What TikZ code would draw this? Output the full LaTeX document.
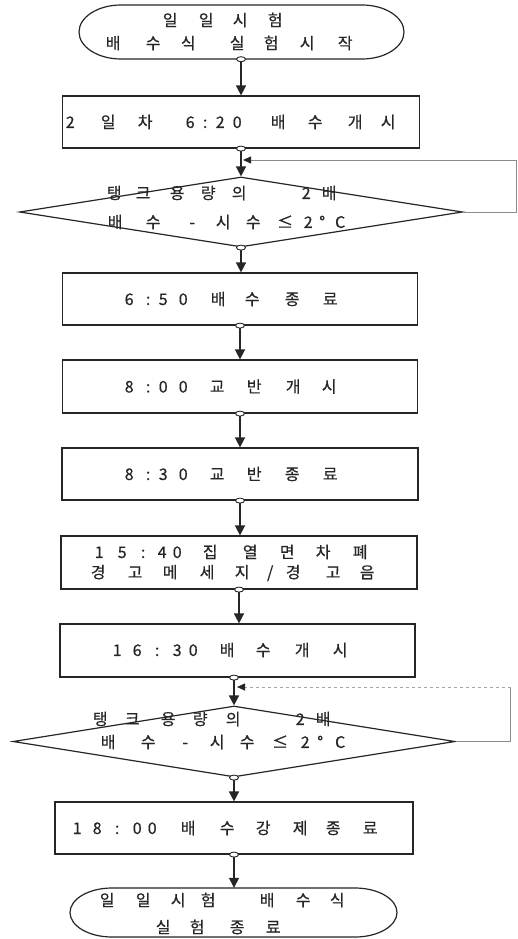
\documentclass[tikz,border=0pt]{standalone}
\usepackage{fontspec}
\setmainfont[FakeBold=0.5]{Noto Sans CJK KR}
\usetikzlibrary{arrows.meta,shapes.geometric}
\newcommand\Cc[2]{\makebox[#1pt][l]{\makebox[0pt][c]{#2}}}
\begin{document}
\begin{tikzpicture}[x=1pt,y=-1pt,
  ln/.style={draw=black!85, line width=1.2pt},
  box/.style={ln, rectangle, inner sep=0pt, fill=white},
  dia/.style={ln, diamond, inner sep=0pt},
  term/.style={rectangle, inner sep=0pt},
  arr/.style={draw=black!85, line width=1.5pt, -{Triangle[length=10pt,width=10pt]}},
  backline/.style={draw=black!45, line width=0.8pt},
  back/.style={backline, -{Triangle[length=8pt,width=7pt,color=black!85]}},
  txt/.style={inner sep=0pt, anchor=west, font=\fontsize{16}{18}\selectfont, text=black!85},
  dot/.style={draw=black!85, line width=0.9pt, fill=white}]

\useasboundingbox[fill=white] (0,0) rectangle (518,939);

% terminals (outline drawn as path, node for anchors)
\node[term, minimum width=325pt, minimum height=54pt] (t1) at (241,32) {};
\draw[ln] (121,5) -- (362,5) arc[start angle=90, end angle=-90, x radius=42pt, y radius=27pt]
  -- (121,59) arc[start angle=270, end angle=90, x radius=42pt, y radius=27pt] -- cycle;
\node[term, minimum width=327pt, minimum height=49pt] (t2) at (234,912.5) {};
\draw[ln] (112,888) -- (355,888) arc[start angle=90, end angle=-90, x radius=42pt, y radius=24.5pt]
  -- (112,937) arc[start angle=270, end angle=90, x radius=42pt, y radius=24.5pt] -- cycle;

% process boxes
\node[box, minimum width=357pt, minimum height=52pt] (b2) at (241,122) {};
\node[box, minimum width=355pt, minimum height=52pt] (b3) at (240,299) {};
\node[box, minimum width=355pt, minimum height=53pt] (b4) at (240,386.5) {};
\node[box, minimum width=356pt, minimum height=52pt] (b5) at (240,474) {};
\node[box, minimum width=356pt, minimum height=53pt] (b6) at (239,562.5) {};
\node[box, minimum width=355pt, minimum height=53pt] (b7) at (237.5,650.5) {};
\node[box, minimum width=358pt, minimum height=52pt] (b8) at (234,828) {};

% decisions
\node[dia, minimum width=443pt, minimum height=70pt] (d1) at (241,212) {};
\node[dia, minimum width=442pt, minimum height=71pt] (d2) at (234,741.5) {};

% texts
\node[txt] (t1a) at (163,20) {\hspace*{7pt}\Cc{36}{일}\Cc{34}{일}\Cc{35}{시}\Cc{0}{험}\hspace*{7pt}};
\node[txt] (t1b) at (106,43) {\hspace*{7pt}\Cc{40}{배}\Cc{35}{수}\Cc{49}{식}\Cc{34}{실}\Cc{36}{험}\Cc{38}{시}\Cc{0}{작}\hspace*{7pt}};
\node[txt] (b2t) at (63,122) {\hspace*{7pt}\Cc{38}{2}\Cc{37}{일}\Cc{45}{차}\Cc{15}{6}\Cc{15}{:}\Cc{17}{2}\Cc{41}{0}\Cc{37}{배}\Cc{40}{수}\Cc{33}{개}\Cc{0}{시}\hspace*{7pt}};
\node[txt] (d1a) at (107,193) {\hspace*{7pt}\Cc{29}{탱}\Cc{34}{크}\Cc{31}{용}\Cc{31}{량}\Cc{67}{의}\Cc{23}{2}\Cc{0}{배}\hspace*{7pt}};
\node[txt] (d1b) at (108,222) {\hspace*{7pt}\Cc{38}{배}\Cc{39}{수}\Cc{31}{-}\Cc{30}{시}\Cc{32}{수}\Cc{23}{≤}\Cc{14}{2}\Cc{18}{°}\Cc{0}{C}\hspace*{7pt}};
\node[txt] (b3t) at (122,299) {\hspace*{7pt}\Cc{19}{6}\Cc{15}{:}\Cc{20}{5}\Cc{35}{0}\Cc{34}{배}\Cc{40}{수}\Cc{38}{종}\Cc{0}{료}\hspace*{7pt}};
\node[txt] (b4t) at (122,386.5) {\hspace*{7pt}\Cc{19}{8}\Cc{15}{:}\Cc{20}{0}\Cc{34}{0}\Cc{37}{교}\Cc{39}{반}\Cc{36}{개}\Cc{0}{시}\hspace*{7pt}};
\node[txt] (b5t) at (122,474) {\hspace*{7pt}\Cc{19}{8}\Cc{15}{:}\Cc{20}{3}\Cc{34}{0}\Cc{37}{교}\Cc{38}{반}\Cc{38}{종}\Cc{0}{료}\hspace*{7pt}};
\node[txt] (b6a) at (92,552) {\hspace*{7pt}\Cc{23}{1}\Cc{21}{5}\Cc{19}{:}\Cc{15}{4}\Cc{33}{0}\Cc{40}{집}\Cc{37}{열}\Cc{36}{면}\Cc{37}{차}\Cc{0}{폐}\hspace*{7pt}};
\node[txt] (b6b) at (91,573) {\hspace*{7pt}\Cc{37}{경}\Cc{35}{고}\Cc{37}{메}\Cc{35}{세}\Cc{28}{지}\Cc{23}{/}\Cc{40}{경}\Cc{34}{고}\Cc{0}{음}\hspace*{7pt}};
\node[txt] (b7t) at (110,650) {\hspace*{7pt}\Cc{20}{1}\Cc{20}{6}\Cc{20}{:}\Cc{16}{3}\Cc{34}{0}\Cc{36}{배}\Cc{39}{수}\Cc{38}{개}\Cc{0}{시}\hspace*{7pt}};
\node[txt] (d2a) at (93,719) {\hspace*{7pt}\Cc{32}{탱}\Cc{36}{크}\Cc{32}{용}\Cc{33}{량}\Cc{67}{의}\Cc{23}{2}\Cc{0}{배}\hspace*{7pt}};
\node[txt] (d2b) at (101,742) {\hspace*{7pt}\Cc{40}{배}\Cc{37}{수}\Cc{32}{-}\Cc{30}{시}\Cc{33}{수}\Cc{25}{≤}\Cc{15}{2}\Cc{20}{°}\Cc{0}{C}\hspace*{7pt}};
\node[txt] (b8t) at (70,828) {\hspace*{7pt}\Cc{20}{1}\Cc{20}{8}\Cc{20}{:}\Cc{15}{0}\Cc{36}{0}\Cc{39}{배}\Cc{36}{수}\Cc{37}{강}\Cc{33}{제}\Cc{37}{종}\Cc{0}{료}\hspace*{7pt}};
\node[txt] (t2a) at (100,900) {\hspace*{7pt}\Cc{36}{일}\Cc{35}{일}\Cc{30}{시}\Cc{59}{험}\Cc{36}{배}\Cc{34}{수}\Cc{0}{식}\hspace*{7pt}};
\node[txt] (t2b) at (156,927) {\hspace*{7pt}\Cc{34}{실}\Cc{40}{험}\Cc{36}{종}\Cc{0}{료}\hspace*{7pt}};

% flow connectors
\draw[arr] (t1.south) -- (t1.south |- b2.north);
\draw[arr] (b2.south) -- (b2.south |- d1.north);
\draw[arr] (d1.south) -- (d1.south |- b3.north);
\draw[arr] (b3.south) -- (b3.south |- b4.north);
\draw[arr] (b4.south) -- (b4.south |- b5.north);
\draw[arr] (b5.south) -- (b5.south |- b6.north);
\draw[arr] (b6.south) -- (b6.south |- b7.north);
\draw[arr] (d2.north |- b7.south) -- (d2.north);
\draw[arr] (d2.south) -- (d2.south |- b8.north);
\draw[arr] (b8.south) -- (b8.south |- t2.north);

% loop-back connectors
\coordinate (j1) at (243,160);
\draw[back] (d1.east) -- ++(53,0) |- (j1);
\coordinate (j2) at (237,687);
\draw[backline] (d2.east) -- ++(55,0) coordinate (c2) -- (c2 |- j2) coordinate (c3);
\draw[back, dashed, draw=black!35] (c3) -- (j2);

% small connection ovals
\foreach \n in {t1,b2,d1,b3,b4,b5,b6,d2,b8}
  \draw[dot] (\n.south) ellipse[x radius=4.5pt, y radius=2.5pt];
\draw[dot] (d2.north |- b7.south) ellipse[x radius=4.5pt, y radius=2.5pt];
\end{tikzpicture}
\end{document}
